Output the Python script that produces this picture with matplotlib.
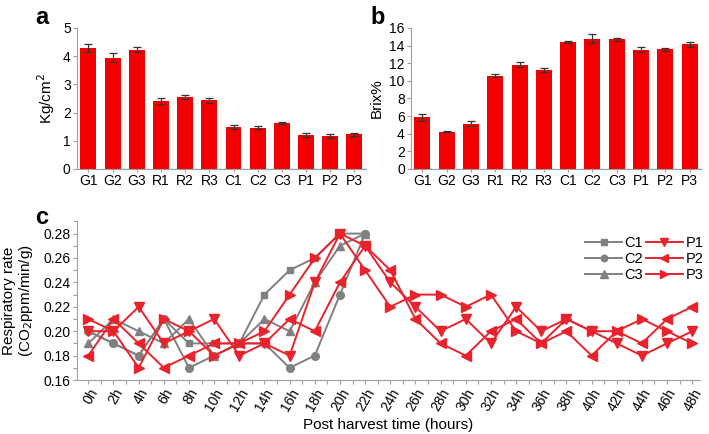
import matplotlib
matplotlib.use("Agg")
import matplotlib.pyplot as plt
from matplotlib.ticker import MultipleLocator, FormatStrFormatter

plt.rcParams['font.family'] = ['Liberation Sans', 'DejaVu Sans']

samples = ["G1", "G2", "G3", "R1", "R2", "R3", "C1", "C2", "C3", "P1", "P2", "P3"]
firmness = [4.29, 3.94, 4.23, 2.40, 2.54, 2.43, 1.48, 1.47, 1.63, 1.19, 1.16, 1.23]
firmness_err = [0.15, 0.16, 0.08, 0.11, 0.07, 0.10, 0.07, 0.06, 0.05, 0.07, 0.07, 0.06]
brix = [5.87, 4.24, 5.11, 10.57, 11.82, 11.21, 14.43, 14.77, 14.70, 13.52, 13.56, 14.13]
brix_err = [0.42, 0.08, 0.28, 0.18, 0.30, 0.22, 0.15, 0.52, 0.15, 0.30, 0.15, 0.30]

hours = list(range(0, 49, 2))
hours_c = list(range(0, 23, 2))
c1 = [0.20, 0.19, 0.18, 0.21, 0.19, 0.19, 0.19, 0.23, 0.25, 0.26, 0.28, 0.28]
c2 = [0.20, 0.19, 0.18, 0.21, 0.17, 0.18, 0.19, 0.19, 0.17, 0.18, 0.23, 0.28]
c3 = [0.19, 0.21, 0.20, 0.19, 0.21, 0.18, 0.19, 0.21, 0.20, 0.24, 0.27, 0.28]
p1 = [0.20, 0.20, 0.22, 0.19, 0.20, 0.21, 0.18, 0.19, 0.18, 0.24, 0.28, 0.27, 0.24,
      0.22, 0.20, 0.21, 0.19, 0.22, 0.20, 0.21, 0.20, 0.19, 0.18, 0.19, 0.20]
p2 = [0.18, 0.21, 0.19, 0.17, 0.18, 0.19, 0.19, 0.19, 0.21, 0.20, 0.24, 0.27, 0.25,
      0.21, 0.19, 0.18, 0.20, 0.21, 0.19, 0.20, 0.18, 0.20, 0.19, 0.21, 0.22]
p3 = [0.21, 0.20, 0.17, 0.21, 0.20, 0.18, 0.19, 0.20, 0.23, 0.26, 0.28, 0.25, 0.22,
      0.23, 0.23, 0.22, 0.23, 0.20, 0.19, 0.21, 0.20, 0.20, 0.21, 0.20, 0.19]

bar_red = "#f20000"
line_red = "#e8232b"
gray = "#808080"
spine_col = "#a0a0a0"

fig = plt.figure(figsize=(7.09, 4.34), dpi=100)
ax_a = fig.add_axes([0.1086, 0.6106, 0.4074, 0.3249])
ax_b = fig.add_axes([0.5797, 0.6106, 0.4090, 0.3249])
ax_c = fig.add_axes([0.1086, 0.1244, 0.8784, 0.3655])


def style(ax):
    for s in ["top", "right"]:
        ax.spines[s].set_visible(False)
    for s in ["left", "bottom"]:
        ax.spines[s].set_color(spine_col)
        ax.spines[s].set_linewidth(0.8)
    ax.tick_params(which="both", color=spine_col, length=3, width=0.8,
                   labelsize=10, pad=1.5)


def bar_panel(ax, values, errs, ylabel, ymax, step):
    x = range(len(samples))
    ax.bar(x, values, width=0.66, color=bar_red, zorder=2)
    ax.errorbar(x, values, yerr=errs, fmt="none", ecolor="#333333",
                elinewidth=0.9, capsize=3, capthick=0.9, zorder=3)
    ax.set_xticks(list(x))
    ax.set_xticklabels(samples)
    ax.set_xlim(-0.47, 11.47)
    ax.set_ylim(0, ymax)
    ax.yaxis.set_major_locator(MultipleLocator(step))
    ax.set_ylabel(ylabel, fontsize=11, labelpad=4)
    style(ax)
    ax.tick_params(axis="x", length=2)


bar_panel(ax_a, firmness, firmness_err, "Kg/cm$^2$", 5, 1)
bar_panel(ax_b, brix, brix_err, "Brix%", 16, 2)

ms = 5.5
lw = 1.4
ax_c.plot(hours_c, c1, color=gray, marker="s", ms=ms - 0.5, lw=lw, label="C1")
ax_c.plot(hours_c, c2, color=gray, marker="o", ms=ms, lw=lw, label="C2")
ax_c.plot(hours_c, c3, color=gray, marker="^", ms=ms + 0.5, lw=lw, label="C3")
ax_c.plot(hours, p1, color=line_red, marker="v", ms=ms + 1, lw=lw, label="P1")
ax_c.plot(hours, p2, color=line_red, marker="<", ms=ms + 1, lw=lw, label="P2")
ax_c.plot(hours, p3, color=line_red, marker=">", ms=ms + 1, lw=lw, label="P3")

ax_c.set_xlim(-0.9, 48.6)
ax_c.set_ylim(0.16, 0.29)
ax_c.set_xticks(hours)
ax_c.set_xticklabels([f"{h}h" for h in hours], rotation=60, ha="right",
                     rotation_mode="anchor")
ax_c.xaxis.set_minor_locator(MultipleLocator(1))
ax_c.set_yticks([0.16, 0.18, 0.20, 0.22, 0.24, 0.26, 0.28])
ax_c.yaxis.set_minor_locator(MultipleLocator(0.01))
ax_c.yaxis.set_major_formatter(FormatStrFormatter("%.2f"))
style(ax_c)
ax_c.set_xlabel("Post harvest time (hours)", fontsize=11, labelpad=3)
ax_c.set_ylabel("Respiratory rate\n(CO$_2$ppm/min/g)", fontsize=11,
                linespacing=1.1, labelpad=6)
ax_c.legend(ncol=2, loc="upper right", bbox_to_anchor=(1.02, 0.96),
            frameon=False, fontsize=10.5, handlelength=2.5, markerscale=0.85,
            columnspacing=0.2, handletextpad=0.2, labelspacing=0.12,
            borderaxespad=0.2)

fig.text(0.05, 0.945, "a", fontsize=17, fontweight="bold")
fig.text(0.522, 0.945, "b", fontsize=17, fontweight="bold")
fig.text(0.05, 0.485, "c", fontsize=17, fontweight="bold")

fig.savefig("out.png", dpi=100)
